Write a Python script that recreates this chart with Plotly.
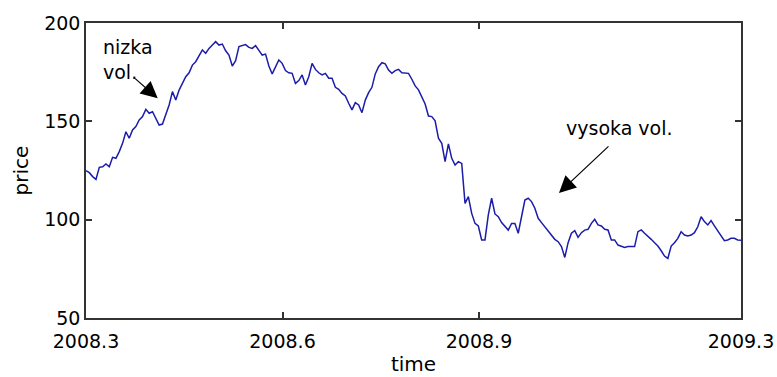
import numpy as np
import plotly.graph_objects as go

# price readings (evenly spaced in time from 2008.3 to 2009.3)
price_seg1 = [124.9, 123.9, 121.9, 120.5, 126.6, 126.9, 128.3, 126.9, 131.7, 131.2,
              134.6, 138.8, 144.7, 141.4, 145.6, 147.3, 150.7, 152.4, 156.1, 154.1,
              154.9, 151.5, 148.1, 148.6, 153.2, 158.3, 165.1, 160.8, 165.9, 169.3,
              172.7, 174.7, 178.6, 180.3, 183.7, 186.3, 184.6, 187.1, 188.8, 190.5]
price_seg2 = [188.8, 189.3, 185.9, 183.7, 178.1, 180.8, 188.0, 188.5, 189.0, 187.6,
              187.1, 188.5, 185.9, 183.7, 184.2, 178.1, 174.1, 177.8, 181.2, 179.5,
              175.8, 174.7, 174.4, 169.3, 170.7, 173.6, 168.5, 172.7, 179.5, 176.4,
              174.7, 173.6, 174.4, 171.9, 171.9, 167.3, 166.3, 164.2]
price_seg3 = [162.9, 159.2, 155.8, 159.5, 158.3, 154.4, 160.8, 164.6, 167.3, 174.1,
              177.8, 179.8, 179.2, 176.1, 174.4, 175.8, 176.4, 174.7, 174.7, 174.4,
              171.4, 168.0, 166.0, 162.0, 158.8, 152.7, 152.4, 150.3, 141.4, 138.8,
              129.5, 138.5, 131.2, 127.8, 129.5, 128.6, 108.3, 111.7, 103.2, 98.1]
price_seg4 = [96.8, 89.7, 89.7, 102.4, 110.9, 102.9, 101.5, 98.5, 96.4, 94.7,
              98.1, 98.1, 93.1, 101.5, 110.0, 110.9, 109.2, 105.8, 100.7, 98.5,
              96.4, 94.4, 92.7, 90.0, 88.8, 86.3, 80.8, 88.3, 93.1, 94.4,
              91.0, 93.4, 94.7, 95.1, 98.1, 100.2, 97.3, 96.8, 95.1]
price_seg5 = [94.8, 89.7, 89.7, 87.1, 86.3, 85.9, 86.3, 86.3, 86.3, 93.9,
              94.8, 93.1, 91.7, 90.0, 88.3, 86.6, 84.2, 81.5, 80.3, 86.6,
              88.3, 90.5, 93.9, 92.2, 91.7, 92.2, 93.4, 96.4, 101.5, 99.0,
              97.3, 99.5, 96.8, 94.4, 91.7, 89.3, 89.7, 90.5, 90.5, 89.7, 89.5]

price = price_seg1 + price_seg2 + price_seg3 + price_seg4 + price_seg5
t_start, t_end = 2008.3, 2009.3
time = np.linspace(t_start, t_end, len(price))

x_tickvals = [2008.3, 2008.6, 2008.9, 2009.3]
x_ticktext = ["2008.3", "2008.6", "2008.9", "2009.3"]
y_tickvals = [50, 100, 150, 200]

FONT = "DejaVu Sans"

fig = go.Figure()
fig.add_trace(go.Scatter(x=time, y=price, mode="lines",
                         line=dict(color="rgb(28,28,170)", width=1.5),
                         showlegend=False, hoverinfo="skip"))

axis_common = dict(showline=True, linecolor="#333333", linewidth=1.5, mirror="ticks",
                   ticks="inside", ticklen=6, tickwidth=1.5, tickcolor="#333333",
                   showgrid=False, zeroline=False, automargin=False,
                   tickfont=dict(family=FONT, size=19, color="black"))

fig.update_xaxes(range=[t_start, t_end], tickvals=x_tickvals, ticktext=x_ticktext,
                 ticklabelstandoff=5,
                 title=dict(text="time", font=dict(family=FONT, size=20, color="black"),
                            standoff=6),
                 **axis_common)
fig.update_yaxes(range=[50, 200], tickvals=y_tickvals,
                 title=dict(text="price", font=dict(family=FONT, size=20, color="black"),
                            standoff=10),
                 **axis_common)

# annotations
fig.add_annotation(x=2008.4095, y=161.7, ax=-24, ay=-21, text="",
                   showarrow=True, arrowhead=2, arrowsize=2.8, arrowwidth=1.2,
                   arrowcolor="black")
fig.add_annotation(x=2008.323, y=181.5, xanchor="left", yanchor="middle", align="left",
                   text="nizka<br>vol.", showarrow=False,
                   font=dict(family=FONT, size=19, color="black"))
fig.add_annotation(x=2009.0221, y=113.6, ax=51, ay=-48, text="",
                   showarrow=True, arrowhead=2, arrowsize=2.8, arrowwidth=1.2,
                   arrowcolor="black")
fig.add_annotation(x=2009.030, y=146.5, xanchor="left", yanchor="middle",
                   text="vysoka vol.", showarrow=False,
                   font=dict(family=FONT, size=19, color="black"))

fig.update_layout(width=777, height=377, paper_bgcolor="white", plot_bgcolor="white",
                  margin=dict(l=86, r=36, t=23, b=59))

fig.write_html("out.html")
